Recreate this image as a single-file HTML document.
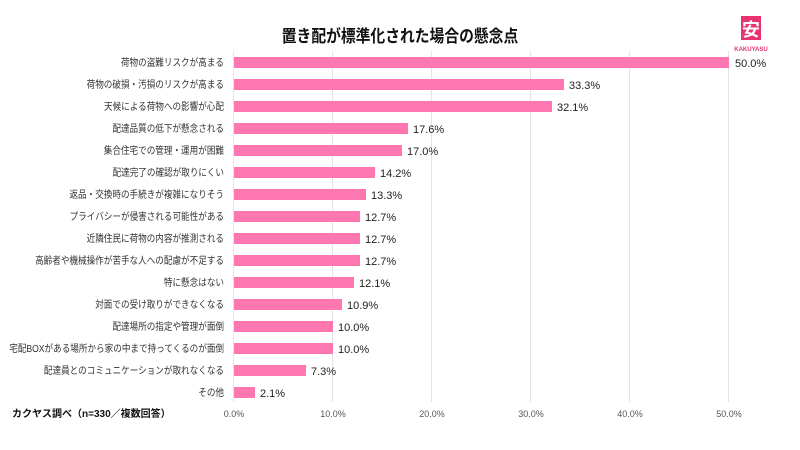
<!DOCTYPE html>
<html><head><meta charset="utf-8"><style>
body{margin:0;background:#fff;}
svg text{font-family:"Liberation Sans","Noto Sans CJK JP",sans-serif;}
</style></head><body>
<svg width="800" height="445" viewBox="0 0 800 445" xmlns="http://www.w3.org/2000/svg">
<rect width="800" height="445" fill="#fff"/>
<g transform="translate(400,0) scale(0.87,1) translate(-400,0)">
<text x="400" y="42" text-anchor="middle" font-size="17" font-weight="bold" fill="#111">置き配が標準化された場合の懸念点</text>
</g>
<rect x="741" y="16" width="20" height="24" fill="#e8336f"/>
<text x="751" y="36" text-anchor="middle" font-size="18" font-weight="bold" fill="#fff">安</text>
<text x="751" y="51" text-anchor="middle" font-size="6" font-weight="bold" fill="#e8336f">KAKUYASU</text>
<g stroke="#e4e4e4" stroke-width="1">
<line x1="233.5" y1="51" x2="233.5" y2="402"/>
<line x1="332.5" y1="51" x2="332.5" y2="402"/>
<line x1="431.5" y1="51" x2="431.5" y2="402"/>
<line x1="530.5" y1="51" x2="530.5" y2="402"/>
<line x1="629.5" y1="51" x2="629.5" y2="402"/>
<line x1="728.5" y1="51" x2="728.5" y2="402"/>
</g>
<g font-size="10" fill="#333" text-anchor="end" transform="translate(224,0) scale(0.86,1) translate(-224,0)">
<text x="224" y="66">荷物の盗難リスクが高まる</text>
<text x="224" y="88">荷物の破損・汚損のリスクが高まる</text>
<text x="224" y="110">天候による荷物への影響が心配</text>
<text x="224" y="132">配達品質の低下が懸念される</text>
<text x="224" y="154">集合住宅での管理・運用が困難</text>
<text x="224" y="176">配達完了の確認が取りにくい</text>
<text x="224" y="198">返品・交換時の手続きが複雑になりそう</text>
<text x="224" y="220">プライバシーが侵害される可能性がある</text>
<text x="224" y="242">近隣住民に荷物の内容が推測される</text>
<text x="224" y="264">高齢者や機械操作が苦手な人への配慮が不足する</text>
<text x="224" y="286">特に懸念はない</text>
<text x="224" y="308">対面での受け取りができなくなる</text>
<text x="224" y="330">配達場所の指定や管理が面倒</text>
<text x="224" y="352">宅配BOXがある場所から家の中まで持ってくるのが面倒</text>
<text x="224" y="374">配達員とのコミュニケーションが取れなくなる</text>
<text x="224" y="396">その他</text>
</g>
<g fill="#ff77b0">
<rect x="234" y="57" width="495" height="11"/>
<rect x="234" y="79" width="330" height="11"/>
<rect x="234" y="101" width="318" height="11"/>
<rect x="234" y="123" width="174" height="11"/>
<rect x="234" y="145" width="168" height="11"/>
<rect x="234" y="167" width="141" height="11"/>
<rect x="234" y="189" width="132" height="11"/>
<rect x="234" y="211" width="126" height="11"/>
<rect x="234" y="233" width="126" height="11"/>
<rect x="234" y="255" width="126" height="11"/>
<rect x="234" y="277" width="120" height="11"/>
<rect x="234" y="299" width="108" height="11"/>
<rect x="234" y="321" width="99" height="11"/>
<rect x="234" y="343" width="99" height="11"/>
<rect x="234" y="365" width="72" height="11"/>
<rect x="234" y="387" width="21" height="11"/>
</g>
<g font-size="11" fill="#222">
<text x="735" y="67">50.0%</text>
<text x="569" y="89">33.3%</text>
<text x="557" y="111">32.1%</text>
<text x="413" y="133">17.6%</text>
<text x="407" y="155">17.0%</text>
<text x="380" y="177">14.2%</text>
<text x="371" y="199">13.3%</text>
<text x="365" y="221">12.7%</text>
<text x="365" y="243">12.7%</text>
<text x="365" y="265">12.7%</text>
<text x="359" y="287">12.1%</text>
<text x="347" y="309">10.9%</text>
<text x="338" y="331">10.0%</text>
<text x="338" y="353">10.0%</text>
<text x="311" y="375">7.3%</text>
<text x="260" y="397">2.1%</text>
</g>
<g font-size="9" fill="#555" text-anchor="middle">
<text x="234" y="417">0.0%</text>
<text x="333" y="417">10.0%</text>
<text x="432" y="417">20.0%</text>
<text x="531" y="417">30.0%</text>
<text x="630" y="417">40.0%</text>
<text x="729" y="417">50.0%</text>
</g>
<text x="12" y="417" font-size="10" font-weight="bold" fill="#111">カクヤス調べ（n=330／複数回答）</text>
</svg>
</body></html>
